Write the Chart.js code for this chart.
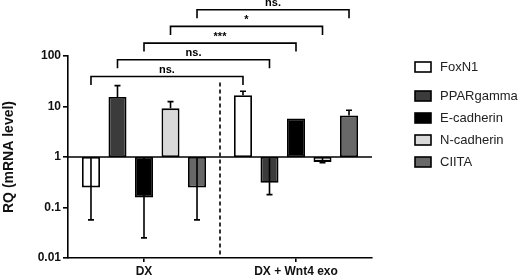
<!DOCTYPE html>
<html>
<head>
<meta charset="utf-8">
<script src="https://cdn.jsdelivr.net/npm/chart.js@4"></script>
<style>
  html, body { margin: 0; padding: 0; background: #fff; }
  #wrap { width: 529px; height: 280px; }
</style>
</head>
<body>
<div id="wrap"><canvas id="chart"></canvas></div>
<script>
const groups = ["DX", "DX + Wnt4 exo"];
const genes = ["FoxN1", "PPARgamma", "E-cadherin", "N-cadherin", "CIITA"];
const foxn1 = [0.25, 16.7];
const pparg = [15.4, 0.31];
const ecad = [0.157, 5.8];
const ncad = [9.2, 0.8];
const ciita = [0.25, 6.6];
// end of each error bar (one-sided, away from 1)
const errFoxn1 = [0.057, 20];
const errPparg = [25.9, 0.18];
const errEcad = [0.025, null];
const errNcad = [12.5, 0.77];
const errCiita = [0.057, 8.4];
const yTicks = [0.01, 0.1, 1, 10, 100];
const signif = ["ns.", "ns.", "***", "*", "ns."];

const fills = ["#ffffff", "#3b3b3b", "#000000", "#d9d9d9", "#686868"];
const series = [foxn1, pparg, ecad, ncad, ciita];
const errors = [errFoxn1, errPparg, errEcad, errNcad, errCiita];

const FONT = "'Liberation Sans', Arial, sans-serif";

const extras = {
  id: "extras",
  beforeDatasetsDraw(chart) {
    const { ctx, chartArea, scales: { x, y } } = chart;
    ctx.save();
    ctx.strokeStyle = "#000";
    ctx.lineWidth = 1.6;
    // baseline at 1
    const y1 = y.getPixelForValue(1);
    ctx.beginPath();
    ctx.moveTo(chartArea.left, y1);
    ctx.lineTo(chartArea.right, y1);
    ctx.stroke();
    // dashed divider between groups
    const mid = (x.getPixelForValue(0) + x.getPixelForValue(1)) / 2;
    ctx.setLineDash([4, 3]);
    ctx.beginPath();
    ctx.moveTo(mid, y.getPixelForValue(30));
    ctx.lineTo(mid, chartArea.bottom);
    ctx.stroke();
    ctx.restore();
  },
  afterDatasetsDraw(chart) {
    const { ctx, chartArea, scales: { y } } = chart;
    ctx.save();
    ctx.strokeStyle = "#000";
    ctx.lineWidth = 1.6;
    // error bars
    errors.forEach((errs, d) => {
      const meta = chart.getDatasetMeta(d);
      meta.data.forEach((el, j) => {
        if (errs[j] == null) return;
        const ye = y.getPixelForValue(errs[j]);
        ctx.beginPath();
        ctx.moveTo(el.x, el.y);
        ctx.lineTo(el.x, ye);
        ctx.moveTo(el.x - 3, ye);
        ctx.lineTo(el.x + 3, ye);
        ctx.stroke();
      });
    });
    // significance brackets
    ctx.fillStyle = "#000";
    ctx.font = "bold 11px " + FONT;
    ctx.textAlign = "center";
    ctx.textBaseline = "bottom";
    signif.forEach((txt, i) => {
      const meta = chart.getDatasetMeta(i);
      const xa = meta.data[0].x, xb = meta.data[1].x;
      const yb = chartArea.top + 20.5 - i * 16.7;
      ctx.beginPath();
      ctx.moveTo(xa, yb + 8.5);
      ctx.lineTo(xa, yb);
      ctx.lineTo(xb, yb);
      ctx.lineTo(xb, yb + 8.5);
      ctx.stroke();
      ctx.fillText(txt, (xa + xb) / 2, yb - 1);
    });
    // legend
    const rows = [67, 96, 118, 140, 162];
    ctx.font = "13px " + FONT;
    ctx.textAlign = "left";
    ctx.textBaseline = "middle";
    genes.forEach((g, i) => {
      ctx.fillStyle = fills[i];
      ctx.fillRect(415, rows[i] - 5, 16, 10);
      ctx.strokeRect(415, rows[i] - 5, 16, 10);
      ctx.fillStyle = "#222";
      ctx.fillText(g, 440, rows[i] + 0.5);
    });
    ctx.restore();
  },
};

new Chart(document.getElementById("chart"), {
  type: "bar",
  data: {
    labels: groups,
    datasets: genes.map((g, i) => ({
      label: g,
      data: series[i].map((v) => [1, v]),
      backgroundColor: fills[i],
      borderColor: "#000",
      borderWidth: 1.8,
      borderSkipped: false,
      categoryPercentage: 0.872,
      barPercentage: 0.68,
    })),
  },
  options: {
    responsive: true,
    maintainAspectRatio: false,
    animation: false,
    layout: { padding: { top: 56, right: 157, left: 0, bottom: 0 } },
    plugins: { legend: { display: false }, tooltip: { enabled: false } },
    scales: {
      x: {
        afterFit: (s) => { s.height = 22; },
        grid: { display: true, offset: false, drawOnChartArea: false, tickLength: 4, color: "#000", lineWidth: 1.6 },
        border: { color: "#000", width: 1.6 },
        ticks: { color: "#111", font: { family: FONT, size: 12, weight: "bold" }, padding: 2 },
      },
      y: {
        type: "logarithmic",
        min: 0.01,
        max: 100,
        afterFit: (s) => { s.width = 68; },
        afterBuildTicks: (s) => { s.ticks = yTicks.map((v) => ({ value: v })); },
        grid: { display: true, drawOnChartArea: false, tickLength: 5, color: "#000", lineWidth: 1.6 },
        border: { color: "#000", width: 1.6 },
        ticks: {
          color: "#111",
          padding: 2,
          font: { family: FONT, size: 12, weight: "bold" },
          callback: (v) => String(v),
        },
        title: {
          display: true,
          text: "RQ (mRNA level)",
          color: "#111",
          font: { family: FONT, size: 14, weight: "bold" },
          padding: { top: 1, bottom: 0 },
        },
      },
    },
  },
  plugins: [extras],
});
</script>
</body>
</html>
